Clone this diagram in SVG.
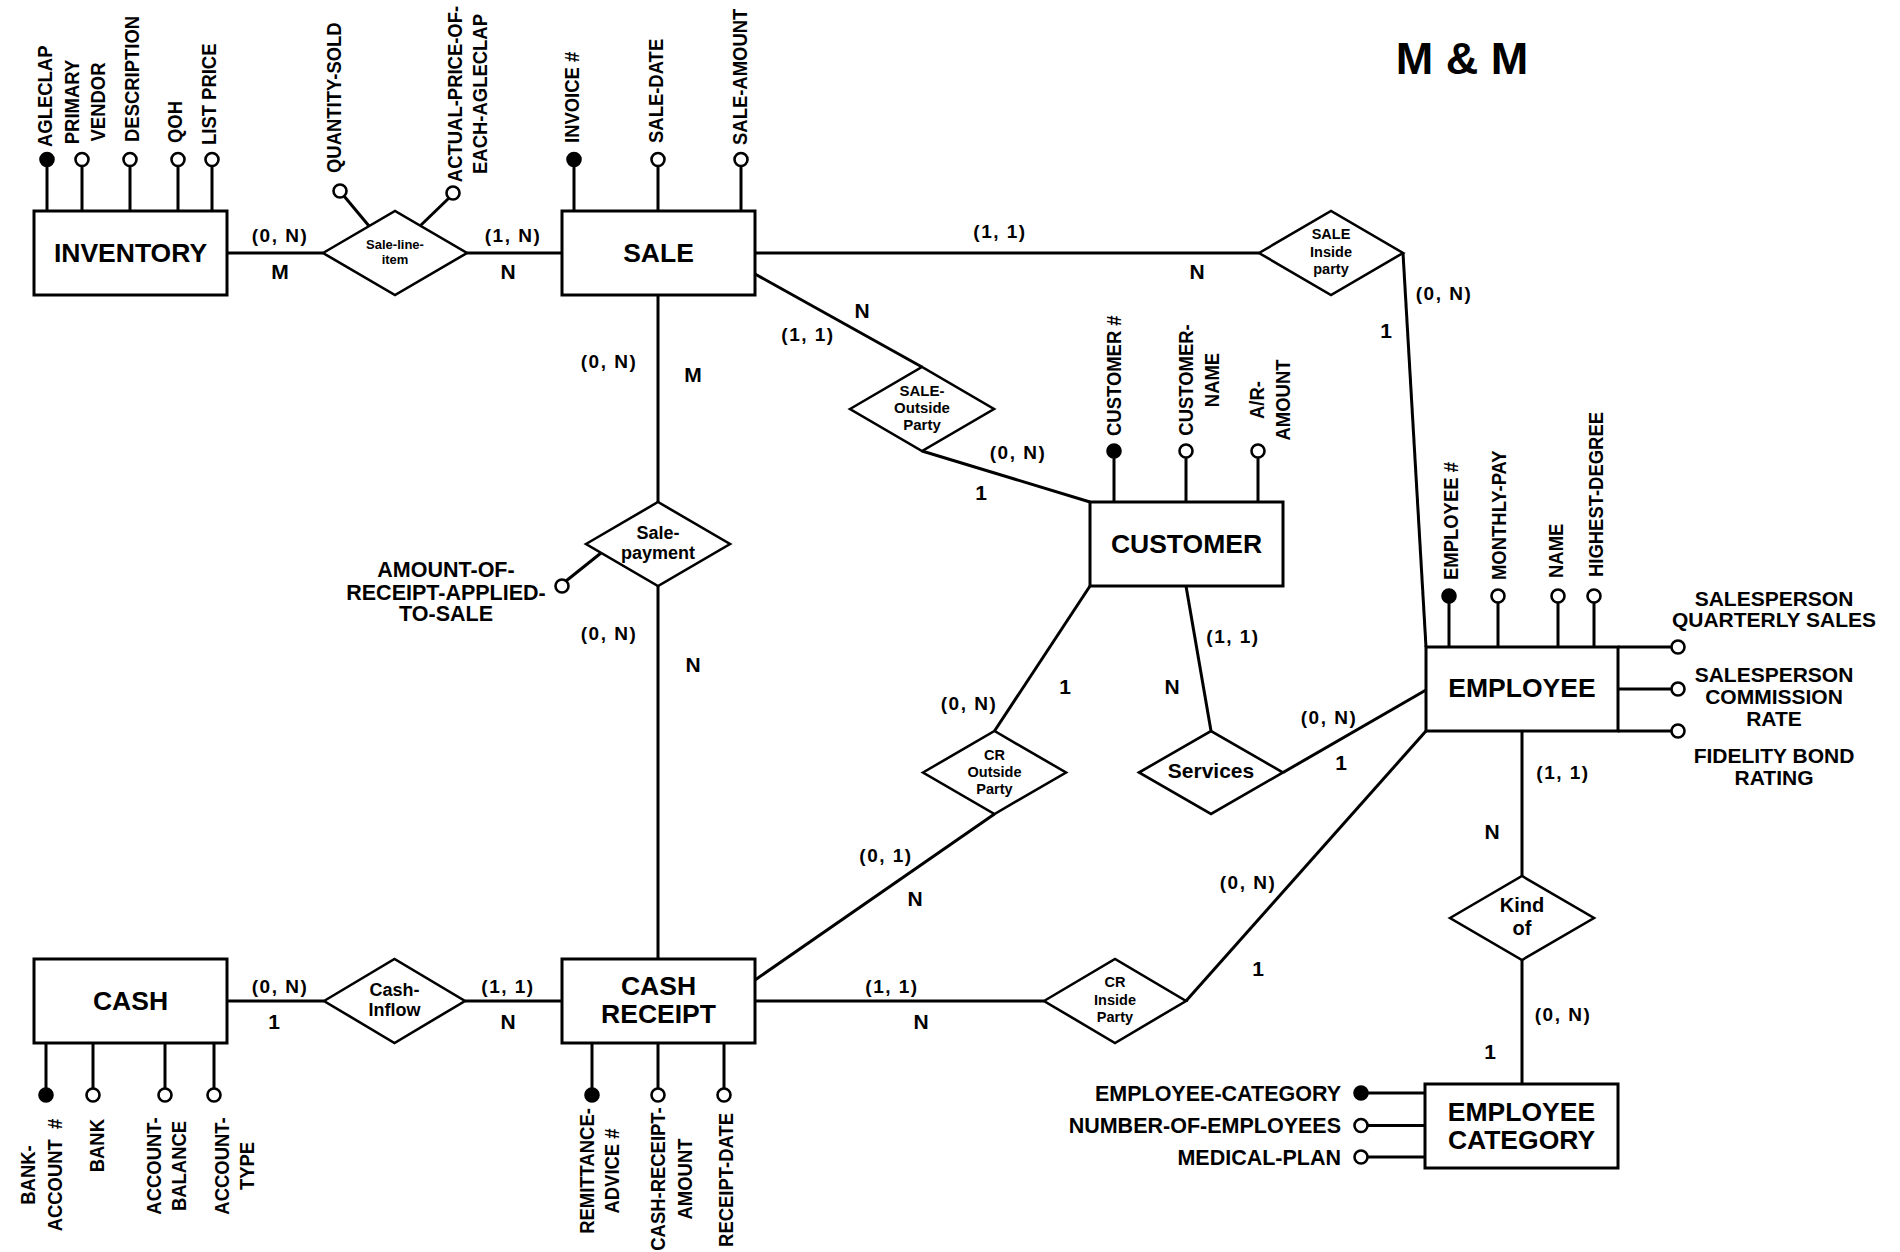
<svg xmlns="http://www.w3.org/2000/svg" width="1900" height="1252" viewBox="0 0 1900 1252">
<style>
.box{fill:#fff;stroke:#000;stroke-width:3}
.dia{fill:#fff;stroke:#000;stroke-width:2.6}
.ln{stroke:#000;stroke-width:3;fill:none}
.al{stroke:#000;stroke-width:3;fill:none}
.oc{fill:#fff;stroke:#000;stroke-width:2.6}
.kc{fill:#000;stroke:#000;stroke-width:2.6}
text{font-family:"Liberation Sans",Arial,sans-serif;font-weight:bold;fill:#000}
.ent{font-size:26.5px;text-anchor:middle}
.at{font-size:20.5px}
.ah{font-size:21px}
.ah2{font-size:21.5px}
.card{font-size:19px;letter-spacing:1.5px;text-anchor:middle}
.mn{font-size:21px;text-anchor:middle}
.mid{text-anchor:middle}
.end{text-anchor:end}
</style>
<rect width="1900" height="1252" fill="#fff"/>
<text x="1462" y="74" font-size="45" class="mid">M &amp; M</text>

<g id="connectors">
<line class="ln" x1="227" y1="253" x2="323" y2="253"/>
<line class="ln" x1="467" y1="253" x2="562" y2="253"/>
<line class="ln" x1="755" y1="253" x2="1259" y2="253"/>
<line class="ln" x1="1403" y1="253" x2="1426" y2="647"/>
<line class="ln" x1="755" y1="274" x2="922" y2="367"/>
<line class="ln" x1="922" y1="451" x2="1090" y2="502"/>
<line class="ln" x1="658" y1="295" x2="658" y2="502"/>
<line class="ln" x1="658" y1="586" x2="658" y2="959"/>
<line class="ln" x1="1090" y1="586" x2="994.5" y2="731"/>
<line class="ln" x1="994.5" y1="814" x2="755" y2="980"/>
<line class="ln" x1="1186" y1="586" x2="1211" y2="731"/>
<line class="ln" x1="1283" y1="772.5" x2="1426" y2="690"/>
<line class="ln" x1="755" y1="1001" x2="1044" y2="1001"/>
<line class="ln" x1="1186" y1="1001" x2="1426" y2="731"/>
<line class="ln" x1="1522" y1="731" x2="1522" y2="876"/>
<line class="ln" x1="1522" y1="960" x2="1522" y2="1084"/>
<line class="ln" x1="227" y1="1001" x2="324" y2="1001"/>
<line class="ln" x1="465" y1="1001" x2="562" y2="1001"/>
</g>

<g id="cardinalities">
<text class="card" x="280" y="242">(0, N)</text>
<text class="mn" x="280" y="279">M</text>
<text class="card" x="513" y="242">(1, N)</text>
<text class="mn" x="508" y="279">N</text>
<text class="card" x="1000" y="238">(1, 1)</text>
<text class="mn" x="1197" y="279">N</text>
<text class="card" x="1444" y="300">(0, N)</text>
<text class="mn" x="1386" y="338">1</text>
<text class="mn" x="862" y="318">N</text>
<text class="card" x="808" y="341">(1, 1)</text>
<text class="card" x="1018" y="459">(0, N)</text>
<text class="mn" x="981" y="500">1</text>
<text class="card" x="609" y="368">(0, N)</text>
<text class="mn" x="693" y="382">M</text>
<text class="card" x="609" y="640">(0, N)</text>
<text class="mn" x="693" y="672">N</text>
<text class="card" x="969" y="710">(0, N)</text>
<text class="mn" x="1065" y="694">1</text>
<text class="card" x="1233" y="643">(1, 1)</text>
<text class="mn" x="1172" y="694">N</text>
<text class="card" x="1329" y="724">(0, N)</text>
<text class="mn" x="1341" y="770">1</text>
<text class="card" x="1563" y="779">(1, 1)</text>
<text class="mn" x="1492" y="839">N</text>
<text class="card" x="886" y="862">(0, 1)</text>
<text class="mn" x="915" y="906">N</text>
<text class="card" x="1248" y="889">(0, N)</text>
<text class="mn" x="1258" y="976">1</text>
<text class="card" x="892" y="993">(1, 1)</text>
<text class="mn" x="921" y="1029">N</text>
<text class="card" x="1563" y="1021">(0, N)</text>
<text class="mn" x="1490" y="1059">1</text>
<text class="card" x="280" y="993">(0, N)</text>
<text class="mn" x="274" y="1029">1</text>
<text class="card" x="508" y="993">(1, 1)</text>
<text class="mn" x="508" y="1029">N</text>
</g>

<g id="inventory">
<line class="al" x1="47" y1="166" x2="47" y2="211"/>
<line class="al" x1="82" y1="166" x2="82" y2="211"/>
<line class="al" x1="130" y1="166" x2="130" y2="211"/>
<line class="al" x1="178" y1="166" x2="178" y2="211"/>
<line class="al" x1="212" y1="166" x2="212" y2="211"/>
<circle class="kc" cx="47" cy="159.5" r="6.5"/>
<circle class="oc" cx="82" cy="159.5" r="6.5"/>
<circle class="oc" cx="130" cy="159.5" r="6.5"/>
<circle class="oc" cx="178" cy="159.5" r="6.5"/>
<circle class="oc" cx="212" cy="159.5" r="6.5"/>
<text class="at" transform="translate(52,147) rotate(-90) scale(0.9,1)">AGLECLAP</text>
<text class="at mid" transform="translate(79,102) rotate(-90) scale(0.9,1)">PRIMARY</text>
<text class="at mid" transform="translate(105,102) rotate(-90) scale(0.9,1)">VENDOR</text>
<text class="at" transform="translate(139,142) rotate(-90) scale(0.9,1)">DESCRIPTION</text>
<text class="at" transform="translate(182,143) rotate(-90) scale(0.9,1)">QOH</text>
<text class="at" transform="translate(216,145) rotate(-90) scale(0.9,1)">LIST PRICE</text>
<rect class="box" x="34" y="211" width="193" height="84"/>
<text class="ent" x="130.5" y="262">INVENTORY</text>
</g>

<g id="sale-line-item">
<line class="al" x1="344" y1="196" x2="369" y2="226"/>
<line class="al" x1="449" y1="198" x2="420" y2="226"/>
<circle class="oc" cx="340" cy="191" r="6.5"/>
<circle class="oc" cx="453" cy="193" r="6.5"/>
<text class="at" transform="translate(341,173) rotate(-90) scale(0.9,1)">QUANTITY-SOLD</text>
<text class="at mid" transform="translate(462,94) rotate(-90) scale(0.9,1)">ACTUAL-PRICE-OF-</text>
<text class="at mid" transform="translate(487,94) rotate(-90) scale(0.9,1)">EACH-AGLECLAP</text>
<polygon class="dia" points="323,253 395,211 467,253 395,295"/>
<text class="mid" font-size="13" x="395" y="248.5">Sale-line-</text>
<text class="mid" font-size="13" x="395" y="263.5">item</text>
</g>

<g id="sale">
<line class="al" x1="574" y1="166" x2="574" y2="211"/>
<line class="al" x1="658" y1="166" x2="658" y2="211"/>
<line class="al" x1="741" y1="166" x2="741" y2="211"/>
<circle class="kc" cx="574" cy="159.5" r="6.5"/>
<circle class="oc" cx="658" cy="159.5" r="6.5"/>
<circle class="oc" cx="741" cy="159.5" r="6.5"/>
<text class="at" transform="translate(579,143) rotate(-90) scale(0.9,1)">INVOICE #</text>
<text class="at" transform="translate(663,143) rotate(-90) scale(0.9,1)">SALE-DATE</text>
<text class="at" transform="translate(747,145) rotate(-90) scale(0.9,1)">SALE-AMOUNT</text>
<rect class="box" x="562" y="211" width="193" height="84"/>
<text class="ent" x="658.5" y="262">SALE</text>
</g>

<g id="sale-inside-party">
<polygon class="dia" points="1259,253 1331,211 1403,253 1331,295"/>
<text class="mid" font-size="14.5" x="1331" y="239">SALE</text>
<text class="mid" font-size="14.5" x="1331" y="257">Inside</text>
<text class="mid" font-size="14.5" x="1331" y="274">party</text>
</g>

<g id="sale-outside-party">
<polygon class="dia" points="850,409 922,367 994,409 922,451"/>
<text class="mid" font-size="15" x="922" y="395.5">SALE-</text>
<text class="mid" font-size="15" x="922" y="412.5">Outside</text>
<text class="mid" font-size="15" x="922" y="430">Party</text>
</g>

<g id="sale-payment">
<line class="al" x1="566" y1="581" x2="601" y2="553"/>
<circle class="oc" cx="562" cy="586" r="6.5"/>
<polygon class="dia" points="586,544 658,502 730,544 658,586"/>
<text class="mid" font-size="18" x="658" y="539">Sale-</text>
<text class="mid" font-size="18" x="658" y="559">payment</text>
<text class="ah2 mid" x="446" y="577">AMOUNT-OF-</text>
<text class="ah2 mid" x="446" y="600">RECEIPT-APPLIED-</text>
<text class="ah2 mid" x="446" y="621">TO-SALE</text>
</g>

<g id="customer">
<line class="al" x1="1114" y1="457" x2="1114" y2="502"/>
<line class="al" x1="1186" y1="457" x2="1186" y2="502"/>
<line class="al" x1="1258" y1="457" x2="1258" y2="502"/>
<circle class="kc" cx="1114" cy="451" r="6.5"/>
<circle class="oc" cx="1186" cy="451" r="6.5"/>
<circle class="oc" cx="1258" cy="451" r="6.5"/>
<text class="at" transform="translate(1121,436) rotate(-90) scale(0.9,1)">CUSTOMER #</text>
<text class="at mid" transform="translate(1193,380) rotate(-90) scale(0.9,1)">CUSTOMER-</text>
<text class="at mid" transform="translate(1219,380) rotate(-90) scale(0.9,1)">NAME</text>
<text class="at mid" transform="translate(1264,400) rotate(-90) scale(0.9,1)">A/R-</text>
<text class="at mid" transform="translate(1290,400) rotate(-90) scale(0.9,1)">AMOUNT</text>
<rect class="box" x="1090" y="502" width="193" height="84"/>
<text class="ent" x="1186.5" y="553">CUSTOMER</text>
</g>

<g id="cr-outside-party">
<polygon class="dia" points="923,772.5 994.5,731 1066,772.5 994.5,814"/>
<text class="mid" font-size="14.5" x="994.5" y="759.5">CR</text>
<text class="mid" font-size="14.5" x="994.5" y="777">Outside</text>
<text class="mid" font-size="14.5" x="994.5" y="794">Party</text>
</g>

<g id="services">
<polygon class="dia" points="1139,772.5 1211,731 1283,772.5 1211,814"/>
<text class="mid" font-size="21" x="1211" y="778">Services</text>
</g>

<g id="employee">
<line class="al" x1="1449" y1="602" x2="1449" y2="647"/>
<line class="al" x1="1498" y1="602" x2="1498" y2="647"/>
<line class="al" x1="1558" y1="602" x2="1558" y2="647"/>
<line class="al" x1="1594" y1="602" x2="1594" y2="647"/>
<circle class="kc" cx="1449" cy="596" r="6.5"/>
<circle class="oc" cx="1498" cy="596" r="6.5"/>
<circle class="oc" cx="1558" cy="596" r="6.5"/>
<circle class="oc" cx="1594" cy="596" r="6.5"/>
<text class="at" transform="translate(1458,580) rotate(-90) scale(0.9,1)">EMPLOYEE #</text>
<text class="at" transform="translate(1506,580) rotate(-90) scale(0.9,1)">MONTHLY-PAY</text>
<text class="at" transform="translate(1563,578) rotate(-90) scale(0.9,1)">NAME</text>
<text class="at" transform="translate(1603,577) rotate(-90) scale(0.9,1)">HIGHEST-DEGREE</text>
<line class="al" x1="1618" y1="647" x2="1671.5" y2="647"/>
<line class="al" x1="1618" y1="689" x2="1671.5" y2="689"/>
<line class="al" x1="1618" y1="731" x2="1671.5" y2="731"/>
<circle class="oc" cx="1678" cy="647" r="6.5"/>
<circle class="oc" cx="1678" cy="689" r="6.5"/>
<circle class="oc" cx="1678" cy="731" r="6.5"/>
<text class="ah mid" x="1774" y="606">SALESPERSON</text>
<text class="ah mid" x="1774" y="627">QUARTERLY SALES</text>
<text class="ah mid" x="1774" y="682">SALESPERSON</text>
<text class="ah mid" x="1774" y="704">COMMISSION</text>
<text class="ah mid" x="1774" y="726">RATE</text>
<text class="ah mid" x="1774" y="763">FIDELITY BOND</text>
<text class="ah mid" x="1774" y="785">RATING</text>
<rect class="box" x="1426" y="647" width="192" height="84"/>
<text class="ent" x="1522" y="697">EMPLOYEE</text>
</g>

<g id="kind-of">
<polygon class="dia" points="1450,918 1522,876 1594,918 1522,960"/>
<text class="mid" font-size="20" x="1522" y="912">Kind</text>
<text class="mid" font-size="20" x="1522" y="935">of</text>
</g>

<g id="employee-category">
<line class="al" x1="1367.5" y1="1093" x2="1425" y2="1093"/>
<line class="al" x1="1367.5" y1="1125.5" x2="1425" y2="1125.5"/>
<line class="al" x1="1367.5" y1="1157" x2="1425" y2="1157"/>
<circle class="kc" cx="1361" cy="1093" r="6.5"/>
<circle class="oc" cx="1361" cy="1125.5" r="6.5"/>
<circle class="oc" cx="1361" cy="1157" r="6.5"/>
<text class="ah2 end" x="1341" y="1100.5">EMPLOYEE-CATEGORY</text>
<text class="ah2 end" x="1341" y="1133">NUMBER-OF-EMPLOYEES</text>
<text class="ah2 end" x="1341" y="1165">MEDICAL-PLAN</text>
<rect class="box" x="1425" y="1084" width="193" height="84"/>
<text class="ent" x="1521.5" y="1121">EMPLOYEE</text>
<text class="ent" x="1521.5" y="1148.5">CATEGORY</text>
</g>

<g id="cr-inside-party">
<polygon class="dia" points="1044,1001 1115,959 1186,1001 1115,1043"/>
<text class="mid" font-size="14.5" x="1115" y="987">CR</text>
<text class="mid" font-size="14.5" x="1115" y="1005">Inside</text>
<text class="mid" font-size="14.5" x="1115" y="1022">Party</text>
</g>

<g id="cash">
<line class="al" x1="46" y1="1043" x2="46" y2="1088.5"/>
<line class="al" x1="93" y1="1043" x2="93" y2="1088.5"/>
<line class="al" x1="165" y1="1043" x2="165" y2="1088.5"/>
<line class="al" x1="214" y1="1043" x2="214" y2="1088.5"/>
<circle class="kc" cx="46" cy="1095" r="6.5"/>
<circle class="oc" cx="93" cy="1095" r="6.5"/>
<circle class="oc" cx="165" cy="1095" r="6.5"/>
<circle class="oc" cx="214" cy="1095" r="6.5"/>
<text class="at mid" transform="translate(35,1175) rotate(-90) scale(0.9,1)">BANK-</text>
<text class="at mid" transform="translate(62,1175) rotate(-90) scale(0.9,1)" style="white-space:pre">ACCOUNT  #</text>
<text class="at end" transform="translate(104,1119) rotate(-90) scale(0.9,1)">BANK</text>
<text class="at mid" transform="translate(161,1166) rotate(-90) scale(0.9,1)">ACCOUNT-</text>
<text class="at mid" transform="translate(186,1166) rotate(-90) scale(0.9,1)">BALANCE</text>
<text class="at mid" transform="translate(229,1166) rotate(-90) scale(0.9,1)">ACCOUNT-</text>
<text class="at mid" transform="translate(254,1166) rotate(-90) scale(0.9,1)">TYPE</text>
<rect class="box" x="34" y="959" width="193" height="84"/>
<text class="ent" x="130.5" y="1010">CASH</text>
</g>

<g id="cash-inflow">
<polygon class="dia" points="324,1001 394.5,959 465,1001 394.5,1043"/>
<text class="mid" font-size="18" x="394.5" y="996">Cash-</text>
<text class="mid" font-size="18" x="394.5" y="1016">Inflow</text>
</g>

<g id="cash-receipt">
<line class="al" x1="592" y1="1043" x2="592" y2="1088.5"/>
<line class="al" x1="658" y1="1043" x2="658" y2="1088.5"/>
<line class="al" x1="724" y1="1043" x2="724" y2="1088.5"/>
<circle class="kc" cx="592" cy="1095" r="6.5"/>
<circle class="oc" cx="658" cy="1095" r="6.5"/>
<circle class="oc" cx="724" cy="1095" r="6.5"/>
<text class="at mid" transform="translate(594,1171) rotate(-90) scale(0.9,1)">REMITTANCE-</text>
<text class="at mid" transform="translate(619,1171) rotate(-90) scale(0.9,1)">ADVICE #</text>
<text class="at mid" transform="translate(665,1179) rotate(-90) scale(0.9,1)">CASH-RECEIPT-</text>
<text class="at mid" transform="translate(692,1179) rotate(-90) scale(0.9,1)">AMOUNT</text>
<text class="at end" transform="translate(733,1113) rotate(-90) scale(0.9,1)">RECEIPT-DATE</text>
<rect class="box" x="562" y="959" width="193" height="84"/>
<text class="ent" x="658.5" y="995">CASH</text>
<text class="ent" x="658.5" y="1023">RECEIPT</text>
</g>
</svg>
